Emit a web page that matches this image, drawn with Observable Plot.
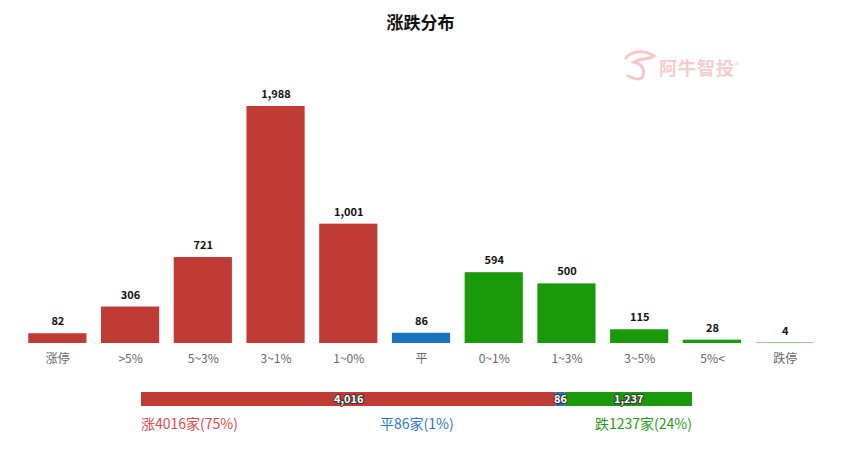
<!DOCTYPE html>
<html><head><meta charset="utf-8">
<script src="https://cdn.jsdelivr.net/npm/d3@7"></script>
<script src="https://cdn.jsdelivr.net/npm/@observablehq/plot@0.6"></script>
<style>
body{margin:0;background:#fff;font-family:"Noto Sans CJK SC","Noto Sans",sans-serif;}
#wrap{position:relative;width:841px;height:464px;overflow:hidden;}
#title{position:absolute;left:0;top:9px;width:841px;text-align:center;font-size:17px;font-weight:bold;color:#111;}
#main{position:absolute;left:0;top:44px;}
#stack{position:absolute;left:0;top:386px;}
.leg{position:absolute;top:413px;font-size:14px;}
#wm{position:absolute;left:659px;top:54px;font-size:18px;color:#f7cccc;font-weight:bold;letter-spacing:1px;}
#logo{position:absolute;left:622px;top:48px;}
</style></head><body>
<div id="wrap">
<div id="title">涨跌分布</div>
<svg id="logo" width="40" height="36"><path d="M4,10 C10,2 24,2 32,8 C26,12 18,10 12,14 C20,16 24,22 20,30 C16,32 10,30 6,28" fill="none" stroke="#f7c6c6" stroke-width="3" stroke-linecap="round"/></svg>
<div id="wm">阿牛智投<sup style="font-size:8px;font-weight:normal">®</sup></div>
<div id="main"></div>
<div id="stack"></div>
<div class="leg" style="left:141px;color:#e2474f">涨4016家(75%)</div>
<div class="leg" style="left:380px;color:#2a78cc">平86家(1%)</div>
<div class="leg" style="right:149px;color:#2a9a16">跌1237家(24%)</div>
</div>
<script>
const categories = ["涨停", ">5%", "5~3%", "3~1%", "1~0%", "平", "0~1%", "1~3%", "3~5%", "5%<", "跌停"];
const counts = [82, 306, 721, 1988, 1001, 86, 594, 500, 115, 28, 4];
const groups = ["up", "up", "up", "up", "up", "flat", "down", "down", "down", "down", "down"];
const groupNames = ["up", "flat", "down"];
const groupColors = ["#c03b33", "#1a72be", "#1a9a0a"];
const totals = [4016, 86, 1237];

const fmt = d3.format(",");
const data = categories.map((c, i) => ({cat: c, n: counts[i], g: groups[i]}));

const main = Plot.plot({
  width: 841, height: 330,
  marginLeft: 21, marginRight: 20, marginTop: 62, marginBottom: 31,
  style: {fontFamily: "'Noto Sans CJK SC','Noto Sans',sans-serif", background: "transparent"},
  x: {domain: categories, paddingInner: 0.2, paddingOuter: 0.1, round: false, label: null, axis: null},
  y: {domain: [0, 1988], axis: null},
  color: {domain: groupNames, range: groupColors},
  marks: [
    Plot.barY(data, {x: "cat", y: "n", fill: "g"}),
    Plot.text(data, {x: "cat", y: "n", text: d => fmt(d.n), dy: -12, fontSize: 11, fontWeight: "bold", fill: "#111"}),
    Plot.axisX({tickSize: 0, tickPadding: 11, fontSize: 12, color: "#666", label: null})
  ]
});
document.getElementById("main").appendChild(main);

const sdata = groupNames.map((g, i) => ({g, v: totals[i]}));
const stack = Plot.plot({
  width: 841, height: 26,
  marginLeft: 141, marginRight: 149, marginTop: 6, marginBottom: 6,
  style: {fontFamily: "'Noto Sans CJK SC','Noto Sans',sans-serif", background: "transparent"},
  x: {domain: [0, d3.sum(totals)], axis: null},
  y: {axis: null},
  color: {domain: groupNames, range: groupColors},
  marks: [
    Plot.barX(sdata, Plot.stackX({x: "v", fill: "g", order: null})),
    Plot.text(sdata, Plot.stackX({x: "v", order: null, text: d => fmt(d.v), fill: "white", stroke: "#333", strokeWidth: 2, paintOrder: "stroke", fontSize: 11, fontWeight: "bold"}))
  ]
});
document.getElementById("stack").appendChild(stack);
</script>
</body></html>
